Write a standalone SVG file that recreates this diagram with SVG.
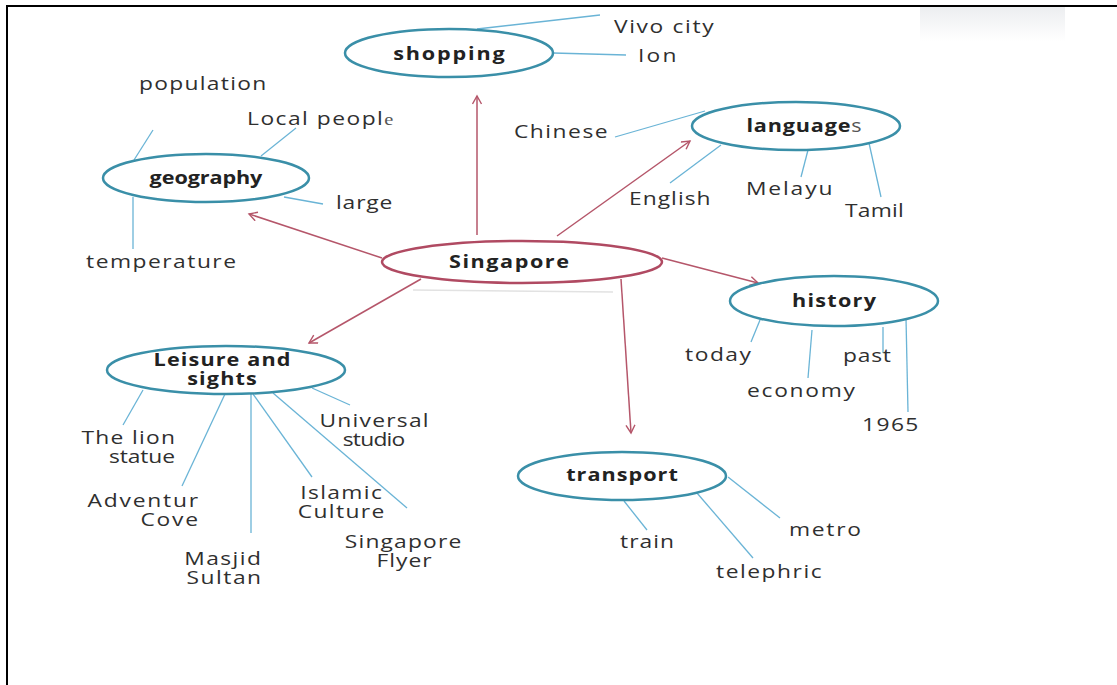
<svg xmlns="http://www.w3.org/2000/svg" width="1117" height="685" viewBox="0 0 1117 685">
<defs>
<marker id="ah" markerWidth="12" markerHeight="12" refX="9" refY="5" orient="auto" markerUnits="userSpaceOnUse">
<path d="M1,0.5 L9,5 L1,9.5" fill="none" stroke="#b5566a" stroke-width="1.4"/>
</marker>
<linearGradient id="smudge" x1="0" y1="0" x2="0" y2="1">
<stop offset="0" stop-color="#eceef0"/>
<stop offset="1" stop-color="#ffffff"/>
</linearGradient>
<style>
.bg{fill:#ffffff}
.frame{stroke:#000;stroke-width:2;fill:none}
.topic{fill:none;stroke:#3a8fa8;stroke-width:2.5}
.center{fill:none;stroke:#b04a62;stroke-width:2.5}
.arrow{stroke:#b5566a;stroke-width:1.5;fill:none}
.leaf{stroke:#6ab4d6;stroke-width:1.3;fill:none}
.lbl{font-family:"Open Sans","DejaVu Sans",sans-serif;font-size:19px;fill:#2f2f2f}
.bold{font-family:"Open Sans","DejaVu Sans",sans-serif;font-size:18px;font-weight:bold;fill:#222}
.mid{text-anchor:middle}
.end{text-anchor:end}
</style>
</defs>
<rect class="bg" x="0" y="0" width="1117" height="685"/>
<rect x="920" y="7" width="145" height="34" fill="url(#smudge)"/>
<line x1="413" y1="290" x2="613" y2="292" stroke="#e2e2e2" stroke-width="1.5"/>
<path class="frame" d="M7,685 L7,6 L1117,6"/>

<g id="connectors">
<line class="arrow" x1="477" y1="235" x2="477" y2="96" marker-end="url(#ah)"/>
<line class="arrow" x1="382" y1="258" x2="249" y2="214" marker-end="url(#ah)"/>
<line class="arrow" x1="557" y1="236" x2="690" y2="141" marker-end="url(#ah)"/>
<line class="arrow" x1="662" y1="258" x2="758" y2="283" marker-end="url(#ah)"/>
<line class="arrow" x1="621" y1="279" x2="631" y2="433" marker-end="url(#ah)"/>
<line class="arrow" x1="421" y1="279" x2="309" y2="343" marker-end="url(#ah)"/>
<line class="leaf" x1="477" y1="29" x2="600" y2="15"/>
<line class="leaf" x1="553" y1="53" x2="626" y2="55"/>
<line class="leaf" x1="153" y1="130" x2="134" y2="160"/>
<line class="leaf" x1="296" y1="128" x2="261" y2="156"/>
<line class="leaf" x1="284" y1="197" x2="323" y2="204"/>
<line class="leaf" x1="133" y1="197" x2="133" y2="249"/>
<line class="leaf" x1="705" y1="111" x2="615" y2="137"/>
<line class="leaf" x1="721" y1="145" x2="670" y2="183"/>
<line class="leaf" x1="808" y1="150" x2="801" y2="177"/>
<line class="leaf" x1="869" y1="143" x2="881" y2="197"/>
<line class="leaf" x1="760" y1="320" x2="751" y2="342"/>
<line class="leaf" x1="812" y1="330" x2="808" y2="378"/>
<line class="leaf" x1="883" y1="327" x2="883" y2="353"/>
<line class="leaf" x1="906" y1="318" x2="908" y2="412"/>
<line class="leaf" x1="624" y1="501" x2="647" y2="530"/>
<line class="leaf" x1="697" y1="493" x2="753" y2="558"/>
<line class="leaf" x1="728" y1="477" x2="780" y2="518"/>
<line class="leaf" x1="143" y1="390" x2="123" y2="425"/>
<line class="leaf" x1="225" y1="394" x2="182" y2="486"/>
<line class="leaf" x1="251" y1="394" x2="251" y2="533"/>
<line class="leaf" x1="253" y1="394" x2="312" y2="477"/>
<line class="leaf" x1="273" y1="393" x2="407" y2="508"/>
<line class="leaf" x1="312" y1="388" x2="350" y2="405"/>
</g>

<g id="singapore">
<ellipse class="center" cx="522" cy="262" rx="140" ry="21"/>
<text class="bold mid" transform="matrix(1.2 0 0 1 509 268)" textLength="100">Singapore</text>
</g>

<g id="shopping">
<ellipse class="topic" cx="449" cy="53" rx="104" ry="24"/>
<text class="bold mid" transform="matrix(1.2 0 0 1 449 60)" textLength="93">shopping</text>
<text class="lbl" transform="matrix(1.2 0 0 1 614 33)" textLength="83">Vivo city</text>
<text class="lbl" transform="matrix(1.2 0 0 1 638 62)" textLength="32">Ion</text>
</g>

<g id="geography">
<ellipse class="topic" cx="206" cy="178" rx="103" ry="24"/>
<text class="bold mid" transform="matrix(1.2 0 0 1 206 184)" textLength="94">geography</text>
<text class="lbl" transform="matrix(1.2 0 0 1 139 90)" textLength="106">population</text>
<text class="lbl" transform="matrix(1.2 0 0 1 247 125)" textLength="122">Local peopl<tspan font-family="'Liberation Serif',serif" font-size="17" fill="#555">e</tspan></text>
<text class="lbl" transform="matrix(1.2 0 0 1 336 209)" textLength="47">large</text>
<text class="lbl" transform="matrix(1.2 0 0 1 86 268)" textLength="125">temperature</text>
</g>

<g id="languages">
<ellipse class="topic" cx="796" cy="126" rx="104" ry="24"/>
<text class="bold mid" transform="matrix(1.2 0 0 1 804 132)" textLength="96">language<tspan font-weight="normal" fill="#555">s</tspan></text>
<text class="lbl" transform="matrix(1.2 0 0 1 514 138)" textLength="78">Chinese</text>
<text class="lbl" transform="matrix(1.2 0 0 1 629 205)" textLength="68">English</text>
<text class="lbl" transform="matrix(1.2 0 0 1 746 195)" textLength="72">Melayu</text>
<text class="lbl" transform="matrix(1.2 0 0 1 845 217)" textLength="49">Tamil</text>
</g>

<g id="history">
<ellipse class="topic" cx="834" cy="301" rx="104" ry="25"/>
<text class="bold mid" transform="matrix(1.2 0 0 1 834 307)" textLength="70">history</text>
<text class="lbl" transform="matrix(1.2 0 0 1 685 361)" textLength="55">today</text>
<text class="lbl" transform="matrix(1.2 0 0 1 747 397)" textLength="90">economy</text>
<text class="lbl" transform="matrix(1.2 0 0 1 843 362)" textLength="40">past</text>
<text class="lbl" transform="matrix(1.2 0 0 1 862 431)" textLength="47">1965</text>
</g>

<g id="transport">
<ellipse class="topic" cx="622" cy="476" rx="104" ry="24"/>
<text class="bold mid" transform="matrix(1.2 0 0 1 622 481)" textLength="93">transport</text>
<text class="lbl" transform="matrix(1.2 0 0 1 620 548)" textLength="45">train</text>
<text class="lbl" transform="matrix(1.2 0 0 1 716 578)" textLength="88">telephric</text>
<text class="lbl" transform="matrix(1.2 0 0 1 789 536)" textLength="60">metro</text>
</g>

<g id="leisure">
<ellipse class="topic" cx="226" cy="370" rx="119" ry="24"/>
<text class="bold mid" transform="matrix(1.2 0 0 1 222 366)" textLength="114">Leisure and</text>
<text class="bold mid" transform="matrix(1.2 0 0 1 222 385)" textLength="58">sights</text>
<text class="lbl end" transform="matrix(1.2 0 0 1 175 444)" textLength="78">The lion</text>
<text class="lbl end" transform="matrix(1.2 0 0 1 175 463)" textLength="55">statue</text>
<text class="lbl end" transform="matrix(1.2 0 0 1 198 507)" textLength="92">Adventur</text>
<text class="lbl end" transform="matrix(1.2 0 0 1 198 526)" textLength="48">Cove</text>
<text class="lbl end" transform="matrix(1.2 0 0 1 261 565)" textLength="64">Masjid</text>
<text class="lbl end" transform="matrix(1.2 0 0 1 261 584)" textLength="62">Sultan</text>
<text class="lbl mid" transform="matrix(1.2 0 0 1 341 499)" textLength="68">Islamic</text>
<text class="lbl mid" transform="matrix(1.2 0 0 1 341 518)" textLength="72">Culture</text>
<text class="lbl mid" transform="matrix(1.2 0 0 1 403 548)" textLength="97">Singapore</text>
<text class="lbl mid" transform="matrix(1.2 0 0 1 404 567)" textLength="46">Flyer</text>
<text class="lbl mid" transform="matrix(1.2 0 0 1 374 427)" textLength="91">Universal</text>
<text class="lbl mid" transform="matrix(1.2 0 0 1 374 446)" textLength="52">studio</text>
</g>
</svg>
